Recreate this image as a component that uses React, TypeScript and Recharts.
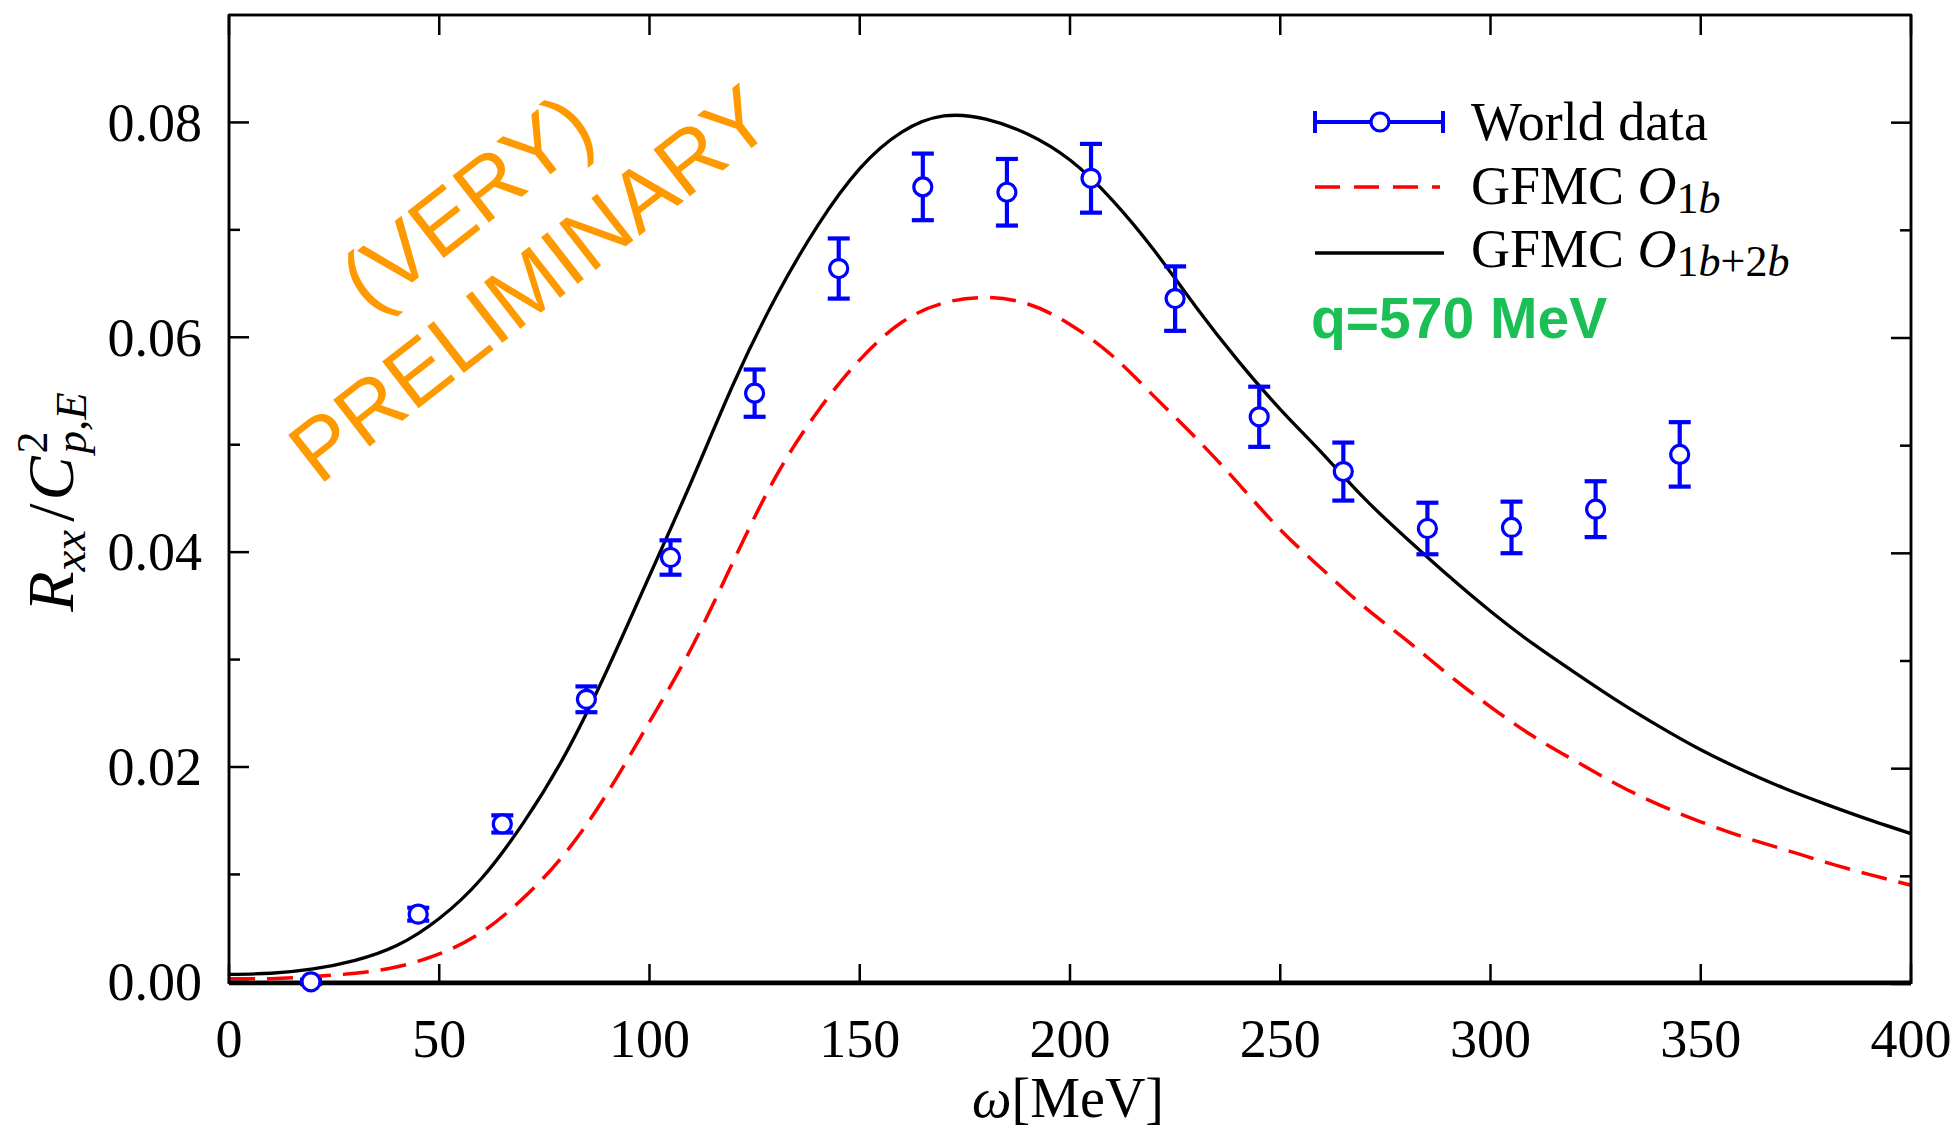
import React from 'react';
import {
  ComposedChart,
  Line,
  Scatter,
  ErrorBar,
  XAxis,
  YAxis,
  Label,
  ReferenceArea,
} from 'recharts';

// theory curves, every 10 MeV
const omegaGrid = [
  0, 10, 20, 30, 40, 50, 60, 70, 80, 90, 100, 110, 120, 130, 140, 150, 160, 170, 180, 190, 200,
  210, 220, 230, 240, 250, 260, 270, 280, 290, 300, 310, 320, 330, 340, 350, 360, 370, 380, 390, 400,
];
const gfmc1b2b = [
  0.0007, 0.0008, 0.0012, 0.002, 0.0034, 0.0059, 0.0096, 0.0148, 0.0212, 0.0291, 0.0378,
  0.0466, 0.0557, 0.0637, 0.0704, 0.0757, 0.0791, 0.0806, 0.0803, 0.0789, 0.0765,
  0.0728, 0.0681, 0.0628, 0.0578, 0.0533, 0.0492, 0.045, 0.0413, 0.0378, 0.0345,
  0.0315, 0.0288, 0.0262, 0.0238, 0.0216, 0.0197, 0.018, 0.0165, 0.0151, 0.0138,
];
const gfmc1b = [
  0.0003, 0.0003, 0.0005, 0.0008, 0.0014, 0.0026, 0.0046, 0.0078, 0.012, 0.0176, 0.0242,
  0.0311, 0.0392, 0.047, 0.0531, 0.0579, 0.0614, 0.0632, 0.0637, 0.0631, 0.0612,
  0.0583, 0.0545, 0.0506, 0.0464, 0.0421, 0.0384, 0.0349, 0.0318, 0.0286, 0.0256,
  0.0229, 0.0206, 0.0184, 0.0165, 0.0149, 0.0135, 0.0123, 0.0111, 0.01, 0.009,
];

// world data points
const worldOmega = [19.5, 45, 65, 85, 105, 125, 145, 165, 185, 205, 225, 245, 265, 285, 305, 325, 345];
const worldValue = [
  0.0, 0.0063, 0.0147, 0.0263, 0.0395, 0.0548, 0.0664, 0.074, 0.0735, 0.0748, 0.0636,
  0.0526, 0.0475, 0.0422, 0.0423, 0.044, 0.0491,
];
const worldError = [
  0.0002, 0.0006, 0.0008, 0.0012, 0.0016, 0.0022, 0.0028, 0.0031, 0.0031, 0.0032, 0.003,
  0.0028, 0.0027, 0.0024, 0.0024, 0.0026, 0.003,
];

const xTicks = [0, 50, 100, 150, 200, 250, 300, 350, 400];
const yTicks = [0, 0.01, 0.02, 0.03, 0.04, 0.05, 0.06, 0.07, 0.08];

const curve1b2b = omegaGrid.map((w, i) => ({ w, v: gfmc1b2b[i] }));
const curve1b = omegaGrid.map((w, i) => ({ w, v: gfmc1b[i] }));
const worldData = worldOmega.map((w, i) => ({ w, v: worldValue[i], err: worldError[i] }));

const SERIF = '"Liberation Serif", "DejaVu Serif", serif';
const SANS = '"Liberation Sans", Arial, sans-serif';
const BLUE = '#0000ff';
const RED = '#ff0000';
const ORANGE = '#ff9900';
const GREEN = '#1cbf55';

const isMajor = (v: number) => Math.round(v * 100) % 2 === 0;

const BottomTick = (props: any) => {
  const { x, y, payload } = props;
  return (
    <g>
      <line x1={x} y1={y} x2={x} y2={y - 20} stroke="#000" strokeWidth={2.5} />
      <text x={x} y={y + 73} textAnchor="middle" fontFamily={SERIF} fontSize={54} fill="#000">
        {payload.value}
      </text>
    </g>
  );
};

const TopTick = (props: any) => {
  const { x, y } = props;
  return <line x1={x} y1={y} x2={x} y2={y + 20} stroke="#000" strokeWidth={2.5} />;
};

const LeftTick = (props: any) => {
  const { x, y, payload } = props;
  const major = isMajor(payload.value);
  return (
    <g>
      <line x1={x} y1={y} x2={x + (major ? 20 : 11)} y2={y} stroke="#000" strokeWidth={2.5} />
      {major && (
        <text x={x - 27} y={y} dy="0.34em" textAnchor="end" fontFamily={SERIF} fontSize={54} fill="#000">
          {payload.value.toFixed(2)}
        </text>
      )}
    </g>
  );
};

const RightTick = (props: any) => {
  const { x, y, payload } = props;
  const major = isMajor(payload.value);
  return <line x1={x} y1={y} x2={x - (major ? 20 : 11)} y2={y} stroke="#000" strokeWidth={2.5} />;
};

const DataCircle = (props: any) => (
  <circle cx={props.cx} cy={props.cy} r={9} fill="#fff" stroke={BLUE} strokeWidth={3.2} />
);

const XTitle = () => (
  <text x={1068} y={1117} textAnchor="middle" fontFamily={SERIF} fontSize={56} fill="#000">
    <tspan fontStyle="italic">ω</tspan>
    <tspan>[MeV]</tspan>
  </text>
);

const YTitle = () => (
  <text
    transform="translate(73,502) rotate(-90)"
    textAnchor="middle"
    fontFamily={SERIF}
    fontSize={66}
    fill="#000"
  >
    <tspan fontStyle="italic">R</tspan>
    <tspan fontStyle="italic" fontSize={47} dy={12}>xx</tspan>
    <tspan dy={-12} dx={8}>/</tspan>
    <tspan fontStyle="italic" dx={3}>C</tspan>
    <tspan fontSize={44} dy={-26} dx={3}>2</tspan>
    <tspan fontStyle="italic" fontSize={45} dx={-22} dy={39}>p,E</tspan>
  </text>
);

function Overlay() {
  const legendText = { fontFamily: SERIF, fontSize: 54, fill: '#000' };
  return (
    <svg
      width={1958}
      height={1131}
      style={{ position: 'absolute', left: 0, top: 0, pointerEvents: 'none' }}
    >
      {/* watermark */}
      <g transform="translate(548,307) rotate(-38)" fontFamily={SANS} fontSize={86} fill={ORANGE}>
        <text x={0} y={-103} textAnchor="middle">(VERY)</text>
        <text x={0} y={0} textAnchor="middle">PRELIMINARY</text>
      </g>

      {/* legend */}
      <line x1={1315} y1={122} x2={1443} y2={122} stroke={BLUE} strokeWidth={4} />
      <line x1={1315} y1={111} x2={1315} y2={133} stroke={BLUE} strokeWidth={4} />
      <line x1={1443} y1={111} x2={1443} y2={133} stroke={BLUE} strokeWidth={4} />
      <circle cx={1380} cy={122} r={9} fill="#fff" stroke={BLUE} strokeWidth={3.2} />
      <text x={1471} y={140} {...legendText}>World data</text>

      <line x1={1315} y1={187} x2={1440} y2={187} stroke={RED} strokeWidth={3.5} strokeDasharray="25 14" />
      <text x={1471} y={204} {...legendText}>
        GFMC <tspan fontStyle="italic">O</tspan>
        <tspan fontSize={44} dy={9}>1</tspan>
        <tspan fontSize={44} fontStyle="italic">b</tspan>
      </text>

      <line x1={1315} y1={253} x2={1444} y2={253} stroke="#000" strokeWidth={3.5} />
      <text x={1471} y={267} {...legendText}>
        GFMC <tspan fontStyle="italic">O</tspan>
        <tspan fontSize={44} dy={9}>1</tspan>
        <tspan fontSize={44} fontStyle="italic">b</tspan>
        <tspan fontSize={44}>+2</tspan>
        <tspan fontSize={44} fontStyle="italic">b</tspan>
      </text>

      <text x={1311} y={338} fontFamily={SANS} fontWeight="bold" fontSize={57} fill={GREEN}>
        q=570 MeV
      </text>
    </svg>
  );
}

export default function App() {
  return (
    <div style={{ position: 'absolute', left: 0, top: 0, width: 1958, height: 1131, background: '#fff' }}>
      <ComposedChart width={1958} height={1131} margin={{ top: 14, right: 46, bottom: 0, left: 0 }}>
        <XAxis
          dataKey="w"
          type="number"
          domain={[0, 400]}
          ticks={xTicks}
          interval={0}
          tickSize={0}
          tickMargin={0}
          tickLine={false}
          tick={<BottomTick />}
          axisLine={{ stroke: '#000', strokeWidth: 2.5 }}
          height={147}
          allowDataOverflow
        >
          <Label content={<XTitle />} />
        </XAxis>
        <XAxis
          xAxisId="top"
          orientation="top"
          dataKey="w"
          type="number"
          domain={[0, 400]}
          ticks={xTicks}
          interval={0}
          tickSize={0}
          tickMargin={0}
          tickLine={false}
          tick={<TopTick />}
          axisLine={{ stroke: '#000', strokeWidth: 2.5 }}
          height={1}
          allowDataOverflow
        />
        <YAxis
          type="number"
          domain={[0, 0.09]}
          ticks={yTicks}
          interval={0}
          tickSize={0}
          tickMargin={0}
          tickLine={false}
          tick={<LeftTick />}
          axisLine={{ stroke: '#000', strokeWidth: 2.5 }}
          width={229}
        >
          <Label content={<YTitle />} />
        </YAxis>
        <YAxis
          yAxisId="right"
          orientation="right"
          type="number"
          domain={[0, 0.09]}
          ticks={yTicks}
          interval={0}
          tickSize={0}
          tickMargin={0}
          tickLine={false}
          tick={<RightTick />}
          axisLine={{ stroke: '#000', strokeWidth: 2.5 }}
          width={1}
          allowDataOverflow
        />
        {/* plot frame */}
        <ReferenceArea
          x1={0}
          x2={400}
          y1={0}
          y2={0.09}
          fill="none"
          stroke="#000"
          strokeWidth={2.5}
          ifOverflow="visible"
        />
        <Line
          data={curve1b}
          dataKey="v"
          type="natural"
          stroke={RED}
          strokeWidth={3.5}
          strokeDasharray="26 12"
          dot={false}
          activeDot={false}
          isAnimationActive={false}
        />
        <Line
          data={curve1b2b}
          dataKey="v"
          type="natural"
          stroke="#000"
          strokeWidth={3.3}
          dot={false}
          activeDot={false}
          isAnimationActive={false}
        />
        <Scatter data={worldData} dataKey="v" shape={<DataCircle />} isAnimationActive={false}>
          <ErrorBar dataKey="err" direction="y" width={11} stroke={BLUE} strokeWidth={4.2} />
        </Scatter>
      </ComposedChart>
      <Overlay />
    </div>
  );
}
